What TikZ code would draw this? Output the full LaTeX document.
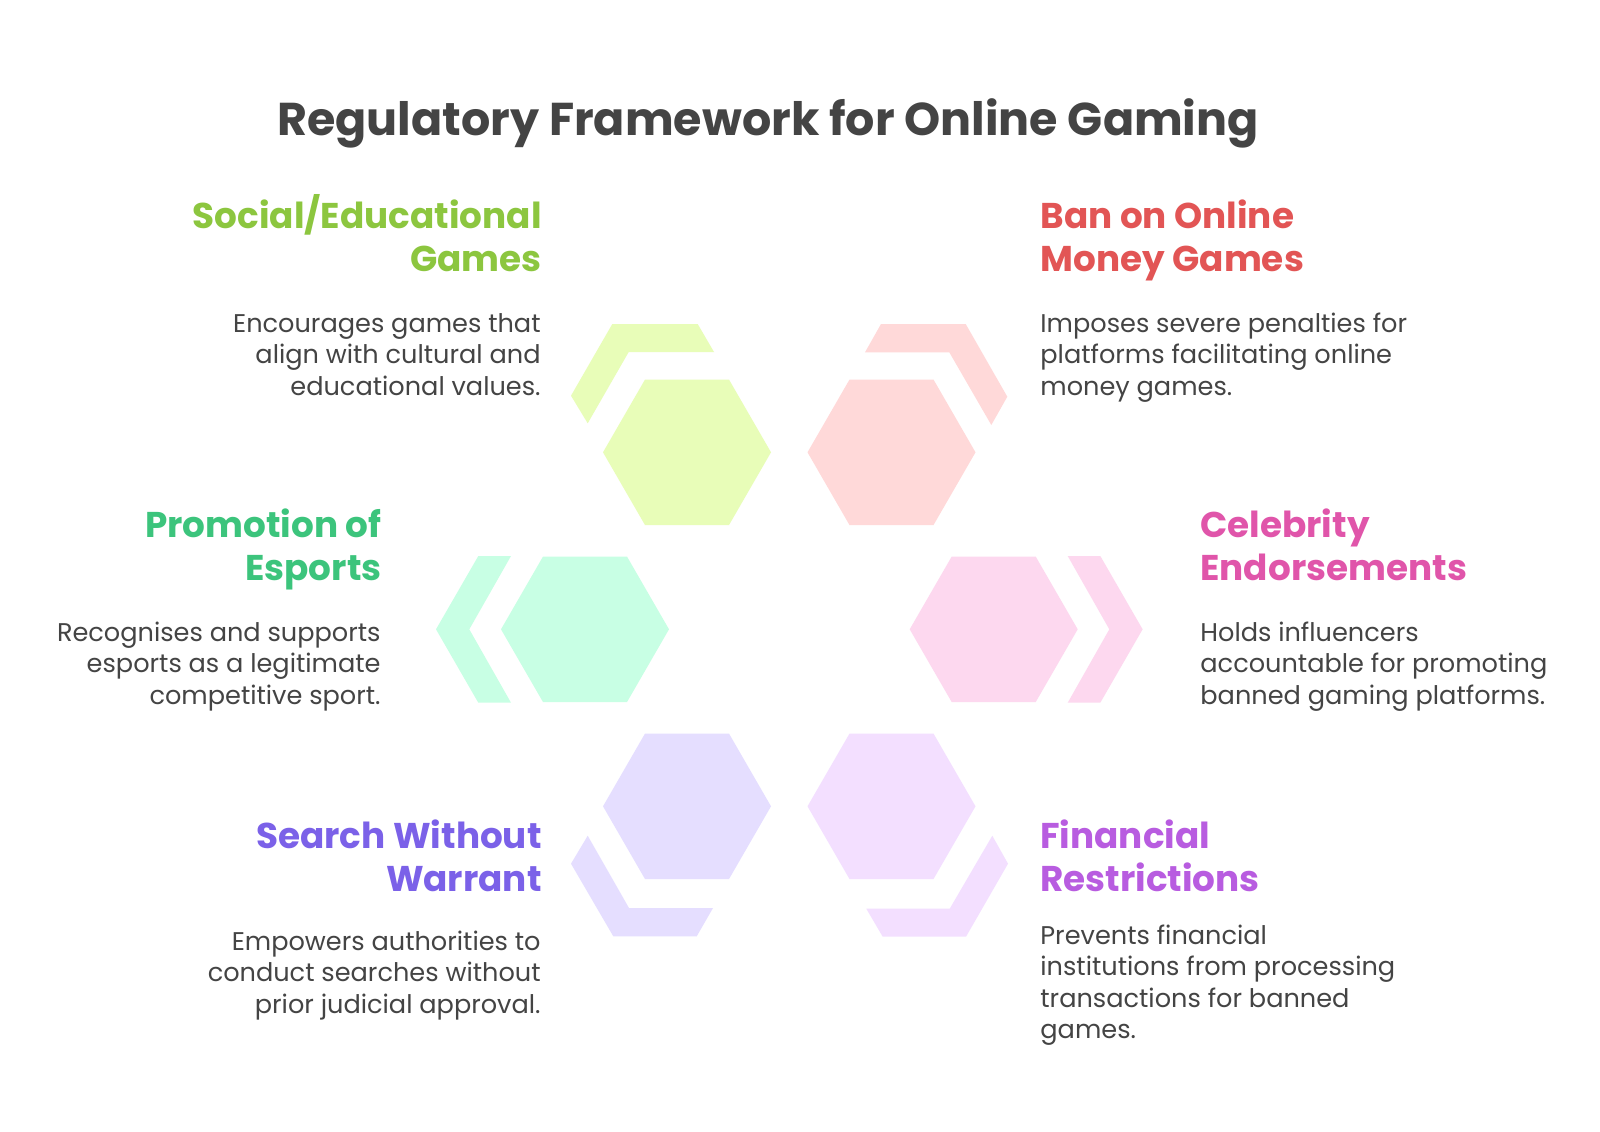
\documentclass[tikz,border=0pt]{standalone}
\usepackage{fontspec}
\setmainfont{Poppins}
\usetikzlibrary{shapes.geometric}
\definecolor{hGreen}{HTML}{E8FDB8}
\definecolor{hRed}{HTML}{FFD9D9}
\definecolor{hMint}{HTML}{C8FFE4}
\definecolor{hPink}{HTML}{FDD8EF}
\definecolor{hBlue}{HTML}{E5DEFF}
\definecolor{hLilac}{HTML}{F3DFFF}
\definecolor{tGreen}{HTML}{8CC63F}
\definecolor{tRed}{HTML}{E25555}
\definecolor{tMint}{HTML}{3CC47C}
\definecolor{tPink}{HTML}{E055AA}
\definecolor{tBlue}{HTML}{7B61E8}
\definecolor{tLilac}{HTML}{B85CE0}
\definecolor{tGray}{HTML}{444444}
\begin{document}
\begin{tikzpicture}[x=0.5pt,y=-0.5pt,
  hexa/.style={regular polygon, regular polygon sides=6, minimum size=84pt, inner sep=0pt, outer sep=0pt, draw=none},
  titletext/.style={font=\fontsize{23}{27}\selectfont\bfseries, text=tGray, inner sep=0pt},
  headL/.style={font=\fontsize{17.9}{21.3}\selectfont\bfseries, align=right, anchor=base east, inner sep=0pt},
  headR/.style={font=\fontsize{17.9}{21.3}\selectfont\bfseries, align=left, anchor=base west, inner sep=0pt},
  bodyL/.style={font=\fontsize{12.8}{15.8}\selectfont, text=tGray, align=right, anchor=base east, inner sep=0pt},
  bodyR/.style={font=\fontsize{12.8}{15.8}\selectfont, text=tGray, align=left, anchor=base west, inner sep=0pt}]
\useasboundingbox[fill=white] (0,0) rectangle (1600,1131);

% title
\node[titletext, anchor=base] (title) at (768,135) {Regulatory Framework for Online Gaming};

% hexagons
\node[hexa, fill=hGreen] (hexA) at (687,452.3) {};
\node[hexa, fill=hRed] (hexB) at (891.5,452.3) {};
\node[hexa, fill=hMint] (hexC) at (585,629.3) {};
\node[hexa, fill=hPink] (hexD) at (993.7,629.3) {};
\node[hexa, fill=hBlue] (hexE) at (687,806.3) {};
\node[hexa, fill=hLilac] (hexF) at (891.5,806.3) {};

% brackets
\fill[hGreen] (612.3,324) -- (697.7,324) -- (714,352) -- (628.7,352) -- (587.7,423.3) -- (571,395.7) -- cycle;
\fill[hRed] (881,324) -- (965.7,324) -- (1007.3,396.7) -- (991.3,425) -- (949.3,352.3) -- (865,352.3) -- cycle;
\fill[hMint] (478.3,556) -- (511,556) -- (469.3,629.3) -- (511,702.7) -- (478.3,702.7) -- (436,629.3) -- cycle;
\fill[hPink] (1067.7,556) -- (1100.3,556) -- (1142.6,629.3) -- (1100.3,702.7) -- (1067.7,702.7) -- (1109.3,629.3) -- cycle;
\fill[hBlue] (587.7,835.7) -- (571,863.7) -- (613.3,936.3) -- (696.7,936.3) -- (713,908) -- (629,908) -- cycle;
\fill[hLilac] (992.3,835.7) -- (1008,863.7) -- (966,936.7) -- (882.7,936.7) -- (866.3,908.7) -- (949.7,908.7) -- cycle;

% texts row 1 (anchors at baseline of last line)
\node[headL, text=tGreen] (headA) at (542,271.5) {Social/Educational\\Games};
\node[bodyL] (bodyA) at (541,395.2) {Encourages games that\\align with cultural and\\educational values.};
\node[headR, text=tRed] (headB) at (1040,271.5) {Ban on Online\\Money Games};
\node[bodyR] (bodyB) at (1040,395.2) {Imposes severe penalties for\\platforms facilitating online\\money games.};

% row 2
\node[headL, text=tMint] (headC) at (382,580.5) {Promotion of\\Esports};
\node[bodyL] (bodyC) at (381,704.2) {Recognises and supports\\esports as a legitimate\\competitive sport.};
\node[headR, text=tPink] (headD) at (1200,580.5) {Celebrity\\Endorsements};
\node[bodyR] (bodyD) at (1200,704.2) {Holds influencers\\accountable for promoting\\banned gaming platforms.};

% row 3
\node[headL, text=tBlue] (headE) at (542,891) {Search Without\\Warrant};
\node[bodyL] (bodyE) at (541,1013.2) {Empowers authorities to\\conduct searches without\\prior judicial approval.};
\node[headR, text=tLilac] (headF) at (1040,891) {Financial\\Restrictions};
\node[bodyR] (bodyF) at (1040,1038.8) {Prevents financial\\institutions from processing\\transactions for banned\\games.};
\end{tikzpicture}
\end{document}
